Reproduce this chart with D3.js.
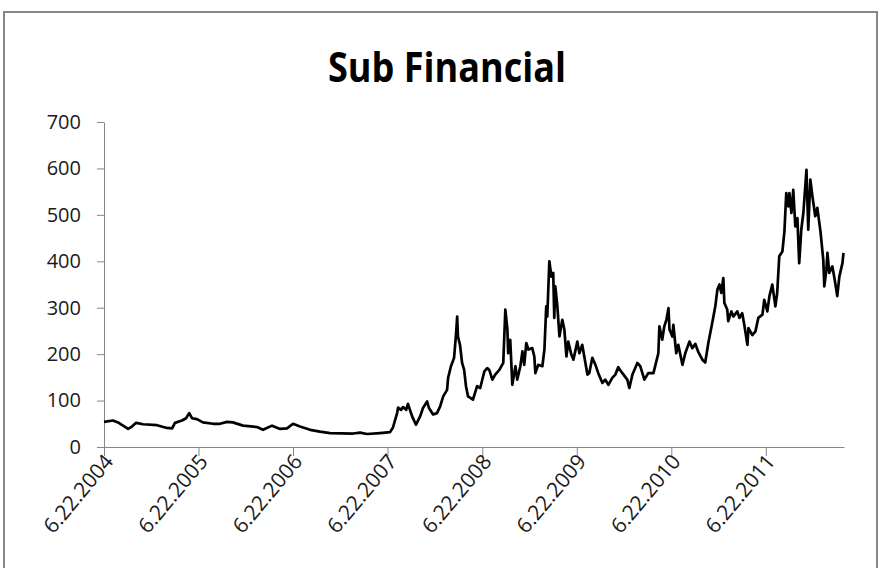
<!DOCTYPE html>
<meta charset="utf-8">
<html>
<head>
<style>
  body { margin: 0; background: #fff; }
  text { font-family: "Open Sans", sans-serif; }
</style>
</head>
<body>
<div id="chart"></div>
<script src="https://d3js.org/d3.v7.min.js"></script>
<script>

  // Sub Financial series
  var dates = [
    "2004-06-22","2004-07-27","2004-08-15","2004-09-23","2004-10-08","2004-10-24","2004-11-20",
    "2005-01-13","2005-02-20","2005-03-12","2005-03-23","2005-04-19","2005-05-05","2005-05-17",
    "2005-05-28","2005-06-16","2005-07-09","2005-08-17","2005-09-13","2005-10-10","2005-11-02",
    "2005-12-11","2006-02-03","2006-02-26","2006-04-02","2006-05-03","2006-05-30","2006-06-22",
    "2006-07-19","2006-08-27","2006-10-04","2006-11-12","2007-02-09","2007-03-08","2007-04-04",
    "2007-05-24","2007-07-02","2007-07-13","2007-07-29","2007-08-02","2007-08-13","2007-08-21",
    "2007-09-02","2007-09-09","2007-09-25","2007-10-10","2007-10-26","2007-11-06","2007-11-22",
    "2007-11-29","2007-12-15","2007-12-30","2008-01-11","2008-01-23","2008-02-07","2008-02-11",
    "2008-02-22","2008-03-05","2008-03-13","2008-03-17","2008-03-20","2008-03-28","2008-04-05",
    "2008-04-13","2008-04-20","2008-04-28","2008-05-17","2008-06-02","2008-06-14","2008-06-30",
    "2008-07-11","2008-07-19","2008-07-31","2008-08-11","2008-08-27","2008-09-11","2008-09-19",
    "2008-09-27","2008-09-30","2008-10-08","2008-10-16","2008-10-28","2008-11-04","2008-11-16",
    "2008-11-24","2008-12-01","2008-12-09","2008-12-17","2009-01-01","2009-01-09","2009-01-13",
    "2009-01-24","2009-02-09","2009-02-17","2009-02-24","2009-02-28","2009-03-08","2009-03-16",
    "2009-03-23","2009-03-27","2009-03-31","2009-04-08","2009-04-16","2009-04-27","2009-05-05",
    "2009-05-13","2009-05-20","2009-06-01","2009-06-09","2009-06-24","2009-07-02","2009-07-13",
    "2009-07-21","2009-08-02","2009-08-09","2009-08-21","2009-09-02","2009-09-13","2009-09-29",
    "2009-10-10","2009-10-22","2009-11-06","2009-11-18","2009-11-29","2009-12-15","2010-01-03",
    "2010-01-11","2010-01-23","2010-02-11","2010-02-22","2010-03-10","2010-03-25","2010-04-14",
    "2010-04-25","2010-05-03","2010-05-07","2010-05-18","2010-05-26","2010-06-03","2010-06-11",
    "2010-06-15","2010-06-26","2010-06-30","2010-07-11","2010-07-19","2010-08-04","2010-08-15",
    "2010-08-31","2010-09-11","2010-09-23","2010-10-04","2010-10-20","2010-10-31","2010-11-12",
    "2010-11-27","2010-12-09","2010-12-17","2010-12-25","2011-01-01","2011-01-09","2011-01-13",
    "2011-01-24","2011-01-28","2011-02-09","2011-02-17","2011-03-04","2011-03-12","2011-03-23",
    "2011-03-31","2011-04-12","2011-04-16","2011-05-01","2011-05-13","2011-05-24","2011-06-09",
    "2011-06-16","2011-06-28","2011-07-06","2011-07-17","2011-07-29","2011-08-05","2011-08-13",
    "2011-08-25","2011-09-02","2011-09-09","2011-09-17","2011-09-21","2011-09-29","2011-10-06",
    "2011-10-14","2011-10-22","2011-10-29","2011-11-06","2011-11-14","2011-11-26","2011-12-03",
    "2011-12-11","2011-12-19","2011-12-30","2012-01-07","2012-01-19","2012-01-30","2012-02-03",
    "2012-02-11","2012-02-15","2012-02-22","2012-03-05","2012-03-13","2012-03-24","2012-04-01",
    "2012-04-13","2012-04-17"
  ];

  var spread = [
    54,57,53,39,44,52,49,
    47,41,40,52,57,62,73,
    62,60,53,50,50,54,53,
    46,43,37,46,39,40,50,
    44,37,33,30,29,31,28,
    30,32,42,73,85,80,86,
    80,93,66,48,66,84,98,
    84,70,73,87,109,123,149,
    174,192,246,281,238,220,181,
    166,131,109,102,131,127,163,
    170,166,145,156,166,181,296,
    253,202,231,134,174,145,174,
    206,177,224,210,213,195,159,
    177,174,210,303,281,400,367,
    375,278,346,303,238,274,253,
    195,227,199,188,227,202,220,
    195,156,159,192,177,159,138,
    145,134,149,156,172,159,145,
    127,156,181,174,145,159,159,
    184,202,260,231,260,274,299,
    253,238,263,202,220,177,202,
    227,213,222,205,188,182,224,
    267,303,339,350,332,364,310,
    296,271,292,281,292,278,288,
    263,220,256,241,249,278,285,
    317,292,325,350,303,332,411,
    421,465,547,518,547,504,554,
    475,493,396,468,504,597,468,
    576,540,497,515,465,403,346,
    382,418,375,389,364,325,367,
    396,418
  ];

  var yTicks = [0, 100, 200, 300, 400, 500, 600, 700];
  var xTickLabels = ["6.22.2004", "6.22.2005", "6.22.2006", "6.22.2007",
                     "6.22.2008", "6.22.2009", "6.22.2010", "6.22.2011"];
  var title = "Sub Financial";

  var W = 880, H = 568;
  var plotLeft = 104, plotRight = 844, plotTop = 122, plotBottom = 447;

  var parse = d3.timeParse("%Y-%m-%d");
  var parseTick = d3.timeParse("%m.%d.%Y");
  var data = dates.map(function(d, i) { return { date: parse(d), value: spread[i] }; });
  var tickDates = xTickLabels.map(function(t) { return parseTick(t); });

  var svg = d3.select("#chart")
    .append("svg")
      .attr("width", W)
      .attr("height", H);

  // outer frame
  svg.append("rect")
    .attr("x", 4)
    .attr("y", 12)
    .attr("width", 873)
    .attr("height", 570)
    .attr("fill", "#fff")
    .attr("stroke", "#878787")
    .attr("stroke-width", 2);

  // title (squeezed a bit, the original face is narrow)
  svg.append("text")
    .attr("x", 447)
    .attr("y", 82)
    .attr("text-anchor", "middle")
    .attr("textLength", 238)
    .attr("lengthAdjust", "spacingAndGlyphs")
    .style("font-size", "42px")
    .style("font-weight", "bold")
    .attr("fill", "#000")
    .text(title);

  var x = d3.scaleTime()
    .domain([parse("2004-06-22"), parse("2012-04-19")])
    .range([plotLeft, plotRight]);

  var y = d3.scaleLinear()
    .domain([0, 700])
    .range([plotBottom, plotTop]);

  // Y axis
  var gy = svg.append("g")
    .attr("transform", "translate(" + plotLeft + ",0)")
    .call(d3.axisLeft(y).tickValues(yTicks).tickSize(7).tickPadding(16).tickSizeOuter(0));
  gy.select(".domain").attr("stroke", "#868686");
  gy.selectAll(".tick line").attr("stroke", "#868686");
  gy.selectAll(".tick text")
    .style("font-size", "20px")
    .style("font-family", "'Open Sans', sans-serif")
    .attr("fill", "#1a1a1a");

  // X axis
  var gx = svg.append("g")
    .attr("transform", "translate(0," + plotBottom + ")")
    .call(d3.axisBottom(x).tickValues(tickDates).tickSize(9).tickSizeOuter(0)
      .tickFormat(function(d, i) { return xTickLabels[i]; }));
  gx.select(".domain").attr("stroke", "#868686");
  gx.selectAll(".tick line").attr("stroke", "#868686");
  gx.selectAll(".tick text")
    .style("font-size", "21px")
    .style("font-family", "'Open Sans', sans-serif")
    .attr("fill", "#1a1a1a")
    .attr("text-anchor", "end")
    .attr("dy", null)
    .attr("y", null)
    .attr("transform", "translate(10,15) rotate(-50)");

  // the series
  svg.append("path")
    .datum(data)
    .attr("fill", "none")
    .attr("stroke", "#000")
    .attr("stroke-width", 2.7)
    .attr("stroke-linejoin", "round")
    .attr("d", d3.line()
      .x(function(d) { return x(d.date); })
      .y(function(d) { return y(d.value); }));

</script>
</body>
</html>
